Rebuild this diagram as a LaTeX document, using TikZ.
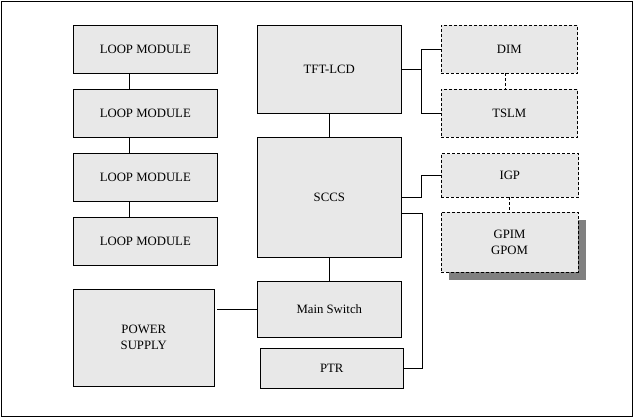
\documentclass[tikz,border=0pt]{standalone}
\usepackage{fontspec}
\setmainfont{Liberation Serif}
\definecolor{boxfill}{RGB}{232,232,232}
\definecolor{shadowgray}{RGB}{128,128,128}
\begin{document}
\begin{tikzpicture}[x=1pt,y=-1pt,
  box/.style={draw=black,fill=boxfill,line width=0.9pt,inner sep=0pt,outer sep=0pt,
    align=center,font=\fontsize{12.75}{16}\selectfont},
  dbox/.style={box,dash pattern=on 3pt off 2pt},
  conn/.style={draw=black,line width=0.9pt},
  dconn/.style={conn,dash pattern=on 3pt off 2pt}]
\useasboundingbox (0,0) rectangle (635,418);
\draw[line width=0.9pt] (1.3,1.3) rectangle (632.5,416.5);
% left column
\node[box,minimum width=144pt,minimum height=47.7pt] (L1) at (145.3,49.2) {LOOP MODULE};
\node[box,minimum width=144pt,minimum height=47.7pt] (L2) at (145.3,113.2) {LOOP MODULE};
\node[box,minimum width=144pt,minimum height=47.7pt] (L3) at (145.3,177.5) {LOOP MODULE};
\node[box,minimum width=144pt,minimum height=48pt] (L4) at (145.3,241.3) {LOOP MODULE};
\node[box,minimum width=141pt,minimum height=97.3pt] (PS) at (143.8,337.7) {POWER\\SUPPLY};
% middle column
\node[box,minimum width=144pt,minimum height=88pt] (TFT) at (329.3,69.3) {TFT-LCD};
\node[box,minimum width=144pt,minimum height=120.3pt] (SCCS) at (329.3,197.2) {SCCS};
\node[box,minimum width=144pt,minimum height=56pt] (MS) at (329.3,309.3) {Main Switch};
\node[box,minimum width=143pt,minimum height=40pt] (PTR) at (331.8,368.3) {PTR};
% right column
\node[dbox,minimum width=136.7pt,minimum height=47.7pt] (DIM) at (509.3,49.2) {DIM};
\node[dbox,minimum width=136.7pt,minimum height=47.7pt] (TSLM) at (509.3,113.2) {TSLM};
\node[dbox,minimum width=137.7pt,minimum height=43.6pt] (IGP) at (509.8,175.5) {IGP};
\fill[shadowgray] (449.3,220.3) rectangle (585.7,280.3);
\node[dbox,minimum width=137pt,minimum height=60pt] (GPIM) at (509.5,242.3) {GPIM\\GPOM};
% connectors
\draw[conn] ([xshift=-16pt]L1.south) -- ([xshift=-16pt]L2.north);
\draw[conn] ([xshift=-16pt]L2.south) -- ([xshift=-16pt]L3.north);
\draw[conn] ([xshift=-16pt]L3.south) -- ([xshift=-16pt]L4.north);
\draw[conn] (MS.west) -- ([xshift=3pt]PS.east |- MS.west);
\draw[conn] (TFT.south) -- (SCCS.north);
\draw[conn] (SCCS.south) -- (MS.north);
\draw[conn] (TFT.east) -- ++(20,0) coordinate (b1);
\draw[conn] (DIM.west) -| (b1) |- (TSLM.west);
\draw[conn] (SCCS.east) -- ++(20,0) |- (IGP.west);
\draw[conn] ([yshift=-16pt]SCCS.east) -| ([xshift=18.7pt]PTR.east) -- (PTR.east);
\draw[dconn] ([xshift=-4pt]DIM.south) -- ([xshift=-4pt]TSLM.north);
\draw[dconn] (IGP.south) -- (IGP.south |- GPIM.north);
\end{tikzpicture}
\end{document}
